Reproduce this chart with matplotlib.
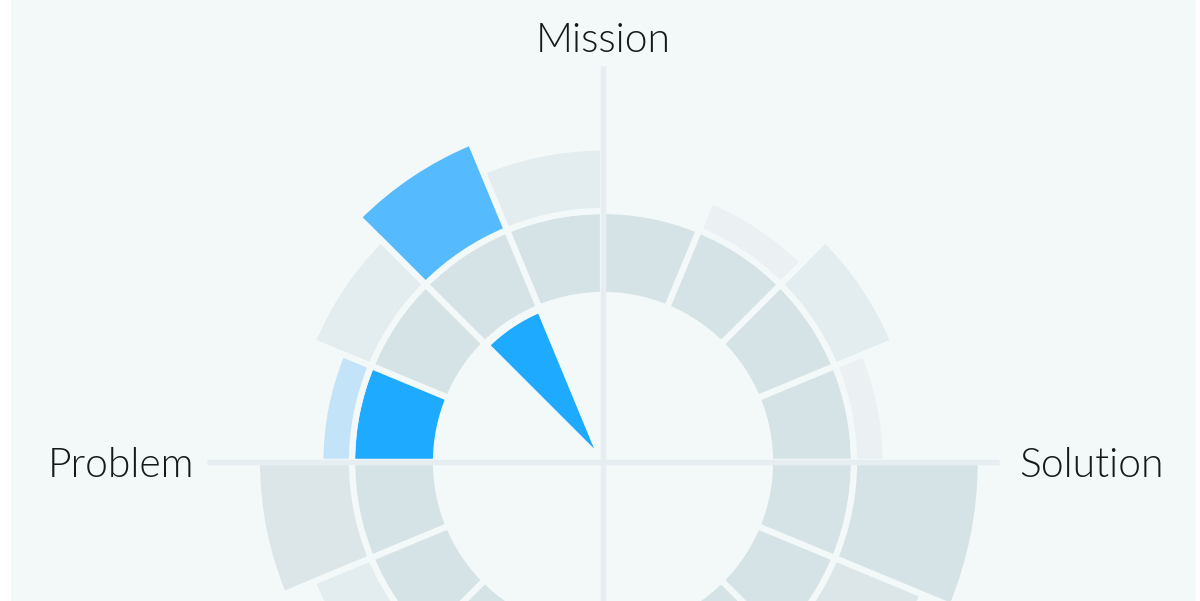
import numpy as np
import matplotlib
matplotlib.use("Agg")
import matplotlib.pyplot as plt

# 16 sectors of 22.5 deg, counted counter-clockwise from "Solution" (east)
N_SECTORS = 16
# outer bar level per sector (0 = no bar), bottom half is mostly cropped
outer_level = [1, 2, 1, 0, 2, 3, 2, 1, 3, 2, 2, 3, 2, 1, 3, 4]
# inner wedge (fraction of the inner disc) per sector
inner_fill = [0, 0, 0, 0, 0, 1, 0, 0, 0, 0, 0, 0, 0, 0, 0, 0]
# sectors drawn in blue, and which of them have the middle ring highlighted
blue_sector = [False, False, False, False, False, True, False, True,
               False, False, False, False, False, False, False, False]
ring_highlight = [False, False, False, False, False, False, False, True,
                  False, False, False, False, False, False, False, False]

axis_labels = ["Solution", "Mission", "Problem"]

BG = "#f3f8f9"
GREYS = {1: "#ebf1f3", 2: "#e3ecee", 3: "#dce6e9", 4: "#d5e2e6"}
BLUES = {1: "#c3e3f9", 2: "#8ccffc", 3: "#55bbfe", 4: "#1eaaff"}
AXIS_COL = "#e6eef1"

# radii in pixel units (axes radius = 400 px)
INNER_R = 165
RING_IN, RING_OUT = 167, 251
LEVEL_STEP = 31.7
GAP = 4.5  # pt, white separation

fig = plt.figure(figsize=(12, 6.01), dpi=100, facecolor="white")

bg = fig.add_axes([11 / 1200, 0, 1185 / 1200, 1])
bg.set_facecolor(BG)
bg.set_xticks([])
bg.set_yticks([])
for s in bg.spines.values():
    s.set_visible(False)

cx, cy, R = 603, 601 - 462, 400
ax = fig.add_axes([(cx - R) / 1200, (cy - R) / 601, 2 * R / 1200, 2 * R / 601],
                  projection="polar")
ax.set_facecolor("none")
ax.set_ylim(0, R)
ax.set_axis_off()

width = 2 * np.pi / N_SECTORS
theta = (np.arange(N_SECTORS) + 0.5) * width

for i in range(N_SECTORS):
    pal = BLUES if blue_sector[i] else GREYS
    # inner wedge
    if inner_fill[i] > 0:
        ax.bar(theta[i], inner_fill[i] * INNER_R, width=width, bottom=0,
               color=BLUES[4], edgecolor=BG, linewidth=GAP, zorder=2)
    # middle ring
    ring_col = BLUES[4] if ring_highlight[i] else GREYS[4]
    ax.bar(theta[i], RING_OUT - RING_IN, width=width, bottom=RING_IN,
           color=ring_col, edgecolor=BG, linewidth=GAP, zorder=2)
    # outer bar
    lvl = outer_level[i]
    if lvl > 0:
        ax.bar(theta[i], lvl * LEVEL_STEP, width=width, bottom=RING_OUT,
               color=pal[lvl], edgecolor=BG, linewidth=GAP, zorder=2)

# axis cross
for a in [0, 90, 180, 270]:
    t = np.deg2rad(a)
    ax.plot([t, t], [0, 396], color=AXIS_COL, lw=GAP - 0.6,
            solid_capstyle="butt", zorder=3)

font = dict(family=["Lato", "DejaVu Sans"], fontweight=300,
            fontsize=29.3, color="#15191c")
ax.text(np.deg2rad(90), 422, axis_labels[1], ha="center", va="center", **font)
ax.text(np.deg2rad(0), 416, axis_labels[0], ha="left", va="center_baseline", **font)
ax.text(np.deg2rad(180), 409, axis_labels[2], ha="right", va="center_baseline", **font)

fig.savefig("out.png", dpi=100, facecolor="white")
